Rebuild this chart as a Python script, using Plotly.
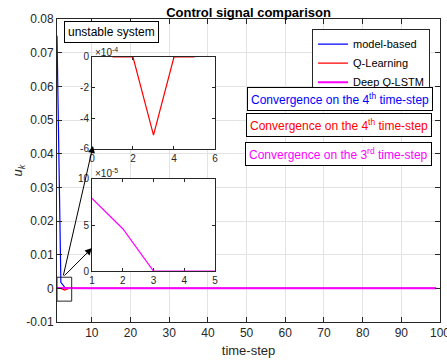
import plotly.graph_objects as go

# ---------------- data ----------------
time_step = list(range(1, 101))

model_based = [0.075, 0.0018, 0.0003,
               0, 0, 0, 0, 0, 0, 0, 0, 0, 0, 0, 0, 0, 0, 0, 0, 0, 0, 0, 0, 0, 0, 0, 0, 0, 0, 0, 0, 0, 0, 0, 0, 0, 0, 0, 0, 0, 0, 0,
               0, 0, 0, 0, 0, 0, 0, 0, 0, 0, 0, 0, 0, 0, 0, 0, 0, 0, 0, 0, 0, 0, 0, 0, 0, 0, 0, 0, 0, 0, 0, 0, 0, 0, 0, 0, 0, 0,
               0, 0, 0, 0, 0, 0, 0, 0, 0, 0, 0, 0, 0, 0, 0, 0, 0, 0, 0]

q_learning = [0, 0, -5.1e-4,
              0, 0, 0, 0, 0, 0, 0, 0, 0, 0, 0, 0, 0, 0, 0, 0, 0, 0, 0, 0, 0, 0, 0, 0, 0, 0, 0, 0, 0, 0, 0, 0, 0, 0, 0, 0, 0, 0, 0,
              0, 0, 0, 0, 0, 0, 0, 0, 0, 0, 0, 0, 0, 0, 0, 0, 0, 0, 0, 0, 0, 0, 0, 0, 0, 0, 0, 0, 0, 0, 0, 0, 0, 0, 0, 0, 0, 0,
              0, 0, 0, 0, 0, 0, 0, 0, 0, 0, 0, 0, 0, 0, 0, 0, 0, 0, 0]

deep_q_lstm = [7.9e-5, 4.6e-5, 0,
               0, 0, 0, 0, 0, 0, 0, 0, 0, 0, 0, 0, 0, 0, 0, 0, 0, 0, 0, 0, 0, 0, 0, 0, 0, 0, 0, 0, 0, 0, 0, 0, 0, 0, 0, 0, 0, 0, 0,
               0, 0, 0, 0, 0, 0, 0, 0, 0, 0, 0, 0, 0, 0, 0, 0, 0, 0, 0, 0, 0, 0, 0, 0, 0, 0, 0, 0, 0, 0, 0, 0, 0, 0, 0, 0, 0, 0,
               0, 0, 0, 0, 0, 0, 0, 0, 0, 0, 0, 0, 0, 0, 0, 0, 0, 0, 0]

inset_len = 5  # number of first steps shown in the insets

x_tickvals = [10, 20, 30, 40, 50, 60, 70, 80, 90, 100]
y_tickvals = [-0.01, 0, 0.01, 0.02, 0.03, 0.04, 0.05, 0.06, 0.07, 0.08]
y_ticktext = ["-0.01", "0", "0.01", "0.02", "0.03", "0.04", "0.05", "0.06", "0.07", "0.08"]

in1_xrange = [0, 6]
in1_yrange = [-6e-4, 0]
in1_xticks = [0, 2, 4, 6]
in1_yticks = [0, -2e-4, -4e-4, -6e-4]
in1_yticktext = ["0", "-2", "-4", "-6"]
in2_xrange = [1, 5]
in2_yrange = [0, 1e-4]
in2_xticks = [1, 2, 3, 4, 5]
in2_yticks = [0, 5e-5, 1e-4]
in2_yticktext = ["0", "5", "10"]

# ---------------- style ----------------
FONT = "Liberation Sans, Arial, sans-serif"
AX = "#262626"
GRID = "#e3e3e3"
BLUE, RED, MAG = "#0000ff", "#ff0000", "#ff00ff"

fig = go.Figure()
fig.add_trace(go.Scatter(x=time_step, y=model_based, mode="lines", name="model-based",
                         line=dict(color=BLUE, width=1.2)))
fig.add_trace(go.Scatter(x=time_step, y=q_learning, mode="lines", name="Q-Learning",
                         line=dict(color=RED, width=1.2)))
fig.add_trace(go.Scatter(x=time_step, y=deep_q_lstm, mode="lines", name="Deep Q-LSTM",
                         line=dict(color=MAG, width=2)))

fig.add_trace(go.Scatter(x=time_step[:inset_len], y=q_learning[:inset_len], mode="lines",
                         line=dict(color=RED, width=1.2), showlegend=False,
                         xaxis="x2", yaxis="y2"))
fig.add_trace(go.Scatter(x=time_step[:inset_len], y=deep_q_lstm[:inset_len], mode="lines",
                         line=dict(color=MAG, width=1.2), showlegend=False,
                         xaxis="x3", yaxis="y3"))

main_ax = dict(showline=True, linecolor=AX, linewidth=1, mirror="ticks", ticks="inside",
               ticklen=5, tickcolor=AX, showgrid=True, gridcolor=GRID, zeroline=False,
               tickfont=dict(size=12, color=AX, family=FONT), automargin=False,
               ticklabeloverflow="allow")
inset_ax = dict(showline=True, linecolor=AX, linewidth=1, mirror="ticks", ticks="inside",
                ticklen=3, tickcolor=AX, showgrid=False, zeroline=False,
                tickfont=dict(size=10, color=AX, family=FONT), layer="below traces",
                automargin=False, ticklabeloverflow="allow")

in_x = [0.0914, 0.4125]
in1_y = [0.571, 0.8746]
in2_y = [0.168, 0.472]

fig.update_layout(
    width=447, height=362,
    margin=dict(l=57, r=7, t=19, b=40, autoexpand=False),
    paper_bgcolor="white", plot_bgcolor="white",
    font=dict(family=FONT, color=AX),
    title=dict(text="<b>Control signal comparison</b>", x=0.556, xanchor="center",
               y=0.966, yanchor="middle", yref="container",
               font=dict(size=13, color="black", family=FONT)),
    xaxis=dict(main_ax, domain=[0, 1], range=[1, 100], tickvals=x_tickvals,
               title=dict(text="time-step", font=dict(size=13, color=AX), standoff=6)),
    yaxis=dict(main_ax, domain=[0, 1], range=[-0.01, 0.08], tickvals=y_tickvals,
               ticktext=y_ticktext,
               title=dict(text="<i>u</i><sub><i>k</i></sub>", font=dict(size=13, color=AX),
                          standoff=0)),
    xaxis2=dict(inset_ax, domain=in_x, anchor="y2", range=in1_xrange, tickvals=in1_xticks),
    yaxis2=dict(inset_ax, domain=in1_y, anchor="x2", range=in1_yrange, tickvals=in1_yticks,
                ticktext=in1_yticktext),
    xaxis3=dict(inset_ax, domain=in_x, anchor="y3", range=in2_xrange, tickvals=in2_xticks),
    yaxis3=dict(inset_ax, domain=in2_y, anchor="x3", range=in2_yrange, tickvals=in2_yticks,
                ticktext=in2_yticktext),
    legend=dict(x=0.974, xanchor="right", y=0.968, yanchor="top",
                bordercolor=AX, borderwidth=1, bgcolor="white",
                font=dict(size=11, color="black", family=FONT)),
    showlegend=True,
)

# opaque backgrounds for insets (drawn in the inset subplot's own layer)
fig.add_shape(type="rect", xref="x2", yref="y2", x0=in1_xrange[0], x1=in1_xrange[1],
              y0=in1_yrange[0], y1=in1_yrange[1], fillcolor="white", line=dict(width=0), layer="below")
fig.add_shape(type="rect", xref="x3", yref="y3", x0=in2_xrange[0], x1=in2_xrange[1],
              y0=in2_yrange[0], y1=in2_yrange[1], fillcolor="white", line=dict(width=0), layer="below")

# zoom box on main plot
fig.add_shape(type="rect", xref="x", yref="y", x0=1, x1=4.8, y0=-0.0038, y1=0.0033,
              line=dict(color=AX, width=1), layer="above")

# arrows from zoom box to insets
fig.add_annotation(xref="paper", yref="paper", x=0.094, y=0.581, ax=-30, ay=131,
                   showarrow=True, arrowhead=2, arrowsize=1.4, arrowwidth=1, arrowcolor="black", text="")
fig.add_annotation(xref="paper", yref="paper", x=0.0914, y=0.244, ax=-29, ay=29,
                   showarrow=True, arrowhead=2, arrowsize=1.4, arrowwidth=1, arrowcolor="black", text="")

# exponent labels
fig.add_annotation(xref="paper", yref="paper", x=0.094, y=0.891, xanchor="left", yanchor="middle",
                   text="×10<sup>-4</sup>", showarrow=False, font=dict(size=10, color=AX))
fig.add_annotation(xref="paper", yref="paper", x=0.094, y=0.492, xanchor="left", yanchor="middle",
                   text="×10<sup>-5</sup>", showarrow=False, font=dict(size=10, color=AX))

# text boxes
boxes = [
    ("unstable system", "black", 0.1436, 0.9587),
    ("Convergence on the 4<sup>th</sup> time-step", BLUE, 0.739, 0.736),
    ("Convergence on the 4<sup>th</sup> time-step", RED, 0.735, 0.650),
    ("Convergence on the 3<sup>rd</sup> time-step", MAG, 0.734, 0.556),
]
for txt, col, bx, by in boxes:
    fig.add_annotation(xref="paper", yref="paper", x=bx, y=by, xanchor="center", yanchor="middle",
                       text=txt, showarrow=False, font=dict(size=12, color=col, family=FONT),
                       bordercolor="black", borderwidth=1, borderpad=3, bgcolor="white")

fig.write_html("out.html", config={"displayModeBar": False},
               post_script="document.body.style.margin='0';document.body.style.overflow='hidden';")
